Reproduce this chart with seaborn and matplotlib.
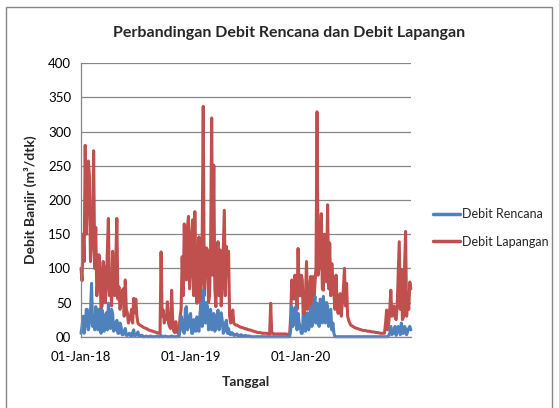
import pandas as pd
import matplotlib
matplotlib.use('Agg')
import matplotlib.pyplot as plt
import seaborn as sns
from matplotlib.patches import Rectangle

# readings every 3.5 days from 01-Jan-18
tanggal = pd.date_range('2018-01-01', periods=314, freq='84h')

debit_lapangan = [
    100, 82, 150, 110, 280, 150, 200, 257, 235, 110, 130, 160, 272, 100, 160, 60, 80, 120, 100, 40,
    45, 110, 100, 50, 70, 125, 173, 60, 90, 45, 125, 70, 60, 110, 173, 55, 73, 40, 50, 65,
    70, 30, 83, 40, 35, 20, 25, 30, 40, 20, 56, 35, 55, 30, 20, 18, 17, 16, 15, 14,
    13, 12.5, 12, 11, 10, 9.5, 9, 8.5, 8, 7.5, 7, 6.5, 6, 5.5, 5, 5, 124, 30, 39, 20,
    30, 25, 51, 20, 15, 12, 68, 25, 8, 6, 22, 8, 5, 6, 29, 40, 117, 60, 165, 90,
    83, 160, 176, 70, 90, 150, 171, 60, 183, 100, 49, 120, 146, 50, 78, 140, 337, 60, 102, 130,
    127, 50, 60, 130, 320, 90, 251, 70, 44, 110, 139, 60, 127, 45, 70, 130, 185, 60, 132, 90,
    125, 30, 20, 22, 39, 20, 18, 17, 17, 16, 15, 14, 14, 13, 13, 12, 12, 11, 11, 10,
    10, 9.5, 9, 8.5, 8, 7.5, 7, 6.5, 6, 6, 6, 5.5, 5, 5, 5, 5, 5, 4.5, 4, 4,
    49, 5, 5, 4, 4, 4, 4, 4, 4, 4, 4, 4, 4, 4, 4, 4, 3, 3, 4, 30,
    83, 60, 55, 90, 78, 40, 129, 60, 60, 90, 83, 20, 29, 60, 110, 40, 45, 75, 88, 40,
    88, 50, 78, 100, 329, 90, 102, 140, 180, 70, 68, 150, 122, 80, 193, 70, 137, 60, 107, 80,
    63, 40, 90, 50, 34, 60, 63, 30, 49, 70, 100, 45, 78, 30, 24, 20, 17, 16, 15, 14,
    13, 12.5, 12, 11.5, 11, 10.5, 10, 9.5, 9, 9, 9, 8.5, 8, 8, 8, 7.5, 7, 7, 7, 6.5,
    6, 6, 6, 5.5, 5, 5, 5, 5, 5, 20, 39, 10, 20, 40, 68, 30, 34, 45, 29, 25,
    44, 90, 139, 40, 98, 25, 29, 100, 154, 30, 60, 40, 80, 70,
]

debit_rencana = [
    5, 15, 30, 5, 15, 40, 40, 10, 20, 35, 78, 15, 30, 10, 44, 20, 10, 40, 29, 5,
    39, 15, 8, 30, 35, 10, 49, 15, 12, 40, 34, 8, 20, 10, 24, 5, 5, 20, 15, 3,
    3, 8, 12, 2, 2, 4, 5, 1, 1, 6, 10, 1, 2, 3, 7, 1, 1, 2, 2, 0,
    0, 0, 1, 0, 0, 0, 1, 0, 0, 0, 0, 0, 1, 0, 0, 0, 2, 0, 0, 0,
    1, 0, 0, 0, 0, 0, 1, 0, 0, 0, 0, 0, 1, 0, 10, 30, 24, 8, 5, 40,
    44, 10, 15, 30, 34, 5, 5, 25, 20, 8, 29, 10, 8, 35, 49, 15, 68, 25, 20, 50,
    44, 10, 29, 40, 10, 20, 34, 8, 15, 30, 39, 10, 20, 35, 24, 5, 8, 20, 24, 5,
    12, 4, 3, 6, 5, 2, 2, 3, 4, 1, 2, 2, 3, 1, 1, 1, 2, 1, 1, 1,
    1, 0, 0, 0, 0, 0, 0, 0, 0, 0, 0, 0, 0, 0, 0, 0, 0, 0, 0, 0,
    0, 0, 0, 0, 0, 0, 0, 0, 0, 0, 0, 0, 0, 0, 0, 0, 0, 0, 0, 10,
    44, 15, 20, 40, 44, 10, 34, 20, 15, 5, 5, 30, 24, 8, 24, 35, 10, 20, 44, 15,
    20, 45, 59, 20, 49, 25, 15, 55, 49, 20, 59, 30, 20, 50, 44, 15, 34, 40, 10, 20,
    5, 0, 0, 0, 0, 0, 0, 0, 0, 0, 0, 0, 0, 0, 0, 0, 0, 0, 0, 0,
    0, 0, 0, 0, 0, 0, 0, 0, 0, 0, 0, 0, 0, 0, 0, 0, 0, 0, 0, 0,
    0, 0, 0, 0, 0, 0, 0, 0, 0, 0, 0, 0, 2, 5, 15, 3, 5, 10, 15, 2,
    8, 15, 10, 3, 20, 5, 5, 15, 12, 3, 8, 12, 15, 10,
]

y_ticks = [0, 50, 100, 150, 200, 250, 300, 350, 400]
y_labels = ['00', '50', '100', '150', '200', '250', '300', '350', '400']
x_ticks = pd.to_datetime(['2018-01-01', '2019-01-01', '2020-01-01', '2021-01-01'])
x_labels = ['01-Jan-18', '01-Jan-19', '01-Jan-20', '']

df = pd.DataFrame({'Tanggal': tanggal,
                   'Debit Rencana': debit_rencana,
                   'Debit Lapangan': debit_lapangan})

sns.set_style('white')
plt.rcParams['font.family'] = ['Lato', 'DejaVu Sans']

fig = plt.figure(figsize=(5.59, 4.08), dpi=100)
ax = fig.add_axes([81 / 559, 1 - 336.7 / 408, 330 / 559, 273.4 / 408])

grey = '#868686'
red = '#C0504D'
blue = '#4F81BD'
sns.lineplot(data=df, x='Tanggal', y='Debit Lapangan', color=red, lw=2.2, ax=ax)
sns.lineplot(data=df, x='Tanggal', y='Debit Rencana', color=blue, lw=2.2, ax=ax)
for ln in ax.lines:
    ln.set_clip_on(False)

ax.set_xlim(x_ticks[0], x_ticks[-1])
ax.set_ylim(0, 400)
ax.set_yticks(y_ticks)
ax.set_yticklabels(y_labels)
ax.set_xticks(x_ticks)
ax.set_xticklabels(x_labels)
ax.yaxis.grid(True, color=grey, lw=0.9)
ax.set_axisbelow(True)
for s in ['top', 'right']:
    ax.spines[s].set_visible(False)
for s in ['left', 'bottom']:
    ax.spines[s].set_color(grey)
    ax.spines[s].set_linewidth(0.9)
ax.tick_params(axis='both', direction='out', length=4, width=0.9, color=grey,
               labelsize=9.5, labelcolor='black', pad=3)
ax.tick_params(axis='x', pad=6)

ax.set_xlabel('Tanggal', fontsize=10, fontweight='bold', labelpad=10)
ax.set_ylabel('Debit Banjir (m³/dtk)', fontsize=10, fontweight='bold', labelpad=8)

fig.text(289 / 559, 1 - 33 / 408, 'Perbandingan Debit Rencana dan Debit Lapangan',
         ha='center', va='center', fontsize=11.5, fontweight='bold')

h_l, = ax.plot([], [], color=red, lw=2.5)
h_r, = ax.plot([], [], color=blue, lw=2.5)
ax.legend([h_r, h_l], ['Debit Rencana', 'Debit Lapangan'],
          loc='center left', bbox_to_anchor=(430 / 559, 1 - 228 / 408),
          bbox_transform=fig.transFigure, frameon=False, fontsize=9,
          handlelength=2.2, handletextpad=0.2, labelspacing=1.25,
          borderaxespad=0, borderpad=0.2)

fig.patches.append(Rectangle((6 / 559, -0.05), 546 / 559, 1 - 7 / 408 + 0.05,
                             transform=fig.transFigure, fill=False,
                             edgecolor=grey, lw=1))

fig.savefig('out.png', dpi=100)
